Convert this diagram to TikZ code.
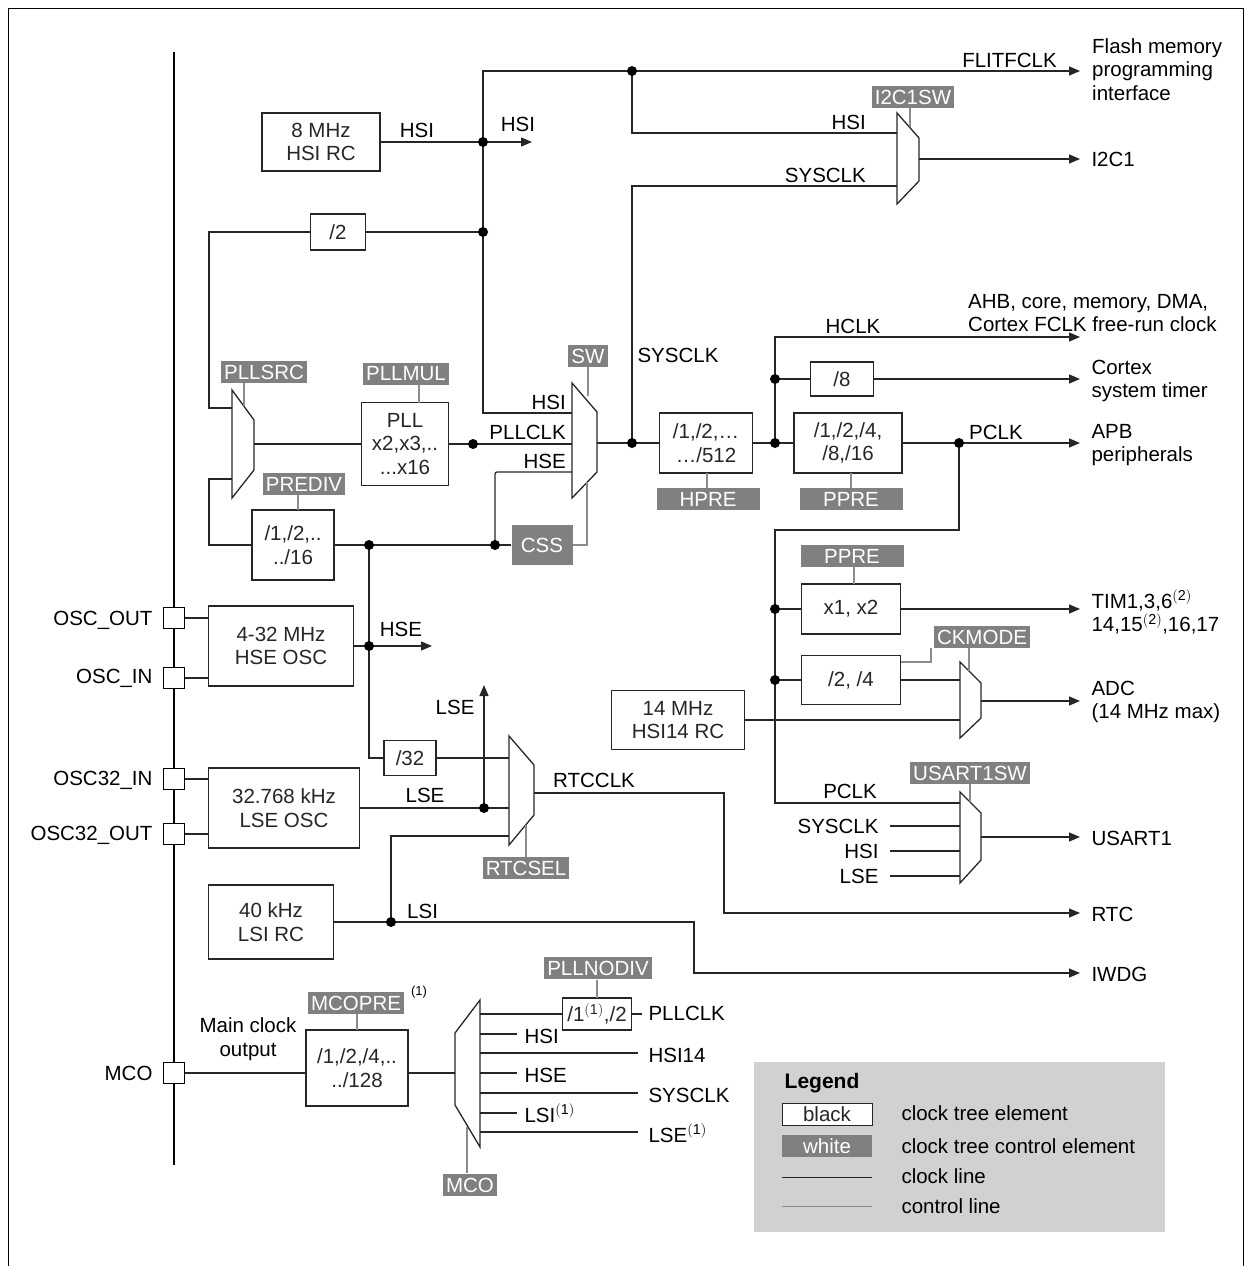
\documentclass[tikz,border=0pt]{standalone}
\usepackage{fontspec}
\setmainfont{Liberation Sans}
\usetikzlibrary{arrows.meta}
\begin{document}
\begin{tikzpicture}[x=1pt,y=-1pt,
  every node/.style={font=\fontsize{20.5}{23.5}\selectfont},
  ln/.style={line width=1.3pt,black!85},
  ctl/.style={line width=1.1pt,black!45},
  arr/.style={ln,-{Triangle[length=11pt,width=9pt]}},
  blk/.style={draw,line width=1.4pt,black!85,fill=white,align=center,inner sep=2pt},
  lbl/.style={fill=black!50,text=white,inner xsep=3pt,inner ysep=0pt,minimum height=22pt},
  dot/.style={circle,fill=black,inner sep=0pt,minimum size=10pt},
  pin/.style={draw,line width=1.4pt,fill=white,minimum size=21pt,inner sep=0pt},
  txt/.style={inner sep=1pt}]
\useasboundingbox (0,0) rectangle (1245,1266);
\draw[line width=1pt] (8,1266) -- (8,8) -- (1243,8) -- (1243,1266);
% bus
\draw[line width=2.6pt] (174,52) -- (174,1165);
% blocks
\node[blk,minimum width=118pt,minimum height=58pt] (hsirc) at (321,142) {8 MHz\\HSI RC};
\node[blk,minimum width=55pt,minimum height=36pt] (div2) at (338,232) {/2};
\node[blk,minimum width=87pt,minimum height=83pt] (pll) at (405,444) {PLL\\x2,x3,..\\...x16};
\node[blk,minimum width=82pt,minimum height=70pt] (prediv) at (293,545) {/1,/2,..\\../16};
\node[blk,minimum width=145pt,minimum height=80pt] (hse) at (281,646) {4-32 MHz\\HSE OSC};
\node[blk,minimum width=151pt,minimum height=80pt] (lse) at (284,808) {32.768 kHz\\LSE OSC};
\node[blk,minimum width=125pt,minimum height=74pt] (lsi) at (271,922) {40 kHz\\LSI RC};
\node[blk,minimum width=52pt,minimum height=35pt] (div32) at (410,758) {/32};
\node[blk,minimum width=93pt,minimum height=60pt] (hpre) at (706,443) {/1,/2,\dots\\\dots/512};
\node[blk,minimum width=108pt,minimum height=60pt] (ppre) at (848,443) {/1,/2,/4,\\/8,/16};
\node[blk,minimum width=63pt,minimum height=34pt] (div8) at (842,379) {/8};
\node[blk,minimum width=99pt,minimum height=50pt] (x12) at (851,609) {x1, x2};
\node[blk,minimum width=99pt,minimum height=49pt] (d24) at (851,680) {/2, /4};
\node[blk,minimum width=133pt,minimum height=59pt] (hsi14) at (678,720) {14 MHz\\HSI14 RC};
\node[blk,minimum width=102pt,minimum height=76pt] (mcopre) at (357,1068) {/1,/2,/4,..\\../128};
\node[blk,minimum width=69pt,minimum height=32pt,inner sep=0pt] (nodiv) at (597,1014) {/1$^{\mathrm{(1)}}$,/2};
% pins
\node[pin] (posco) at (174,618) {};
\node[pin] (posci) at (174,678) {};
\node[pin] (p32i) at (174,779) {};
\node[pin] (p32o) at (174,834) {};
\node[pin] (pmco) at (174,1073) {};
\node[anchor=east] at (156,620) {OSC\_OUT};
\node[anchor=east] at (156,678) {OSC\_IN};
\node[anchor=east] at (156,780) {OSC32\_IN};
\node[anchor=east] at (156,835) {OSC32\_OUT};
\node[anchor=east] at (156,1073) {MCO};
% muxes
\draw[ln] (232,390) -- (254,420) -- (254,470) -- (232,498) -- cycle;
\draw[ln] (572,383) -- (597,412) -- (597,472) -- (572,498) -- cycle;
\draw[ln] (897,113) -- (919,138) -- (919,181) -- (897,204) -- cycle;
\draw[ln] (960,662) -- (981,683) -- (981,718) -- (960,738) -- cycle;
\draw[ln] (960,792) -- (981,813) -- (981,860) -- (960,883) -- cycle;
\draw[ln] (509,736) -- (534,765) -- (534,815) -- (509,845) -- cycle;
\draw[ln] (480,1000) -- (455,1033) -- (455,1105) -- (480,1147) -- cycle;
% control labels
\node[lbl] (l1) at (264,372) {PLLSRC};
\node[lbl] (l2) at (406,374) {PLLMUL};
\node[lbl] (l3) at (588,356) {SW};
\node[lbl] (l4) at (304,484) {PREDIV};
\node[lbl,minimum height=40pt,minimum width=61pt] (css) at (542,545) {CSS};
\node[lbl,minimum width=103pt] (l5) at (708,499) {HPRE};
\node[lbl,minimum width=103pt] (l6) at (851,499) {PPRE};
\node[lbl,minimum width=103pt] (l7) at (852,556) {PPRE};
\node[lbl] (l8) at (982,637) {CKMODE};
\node[lbl] (l9) at (970,773) {USART1SW};
\node[lbl] (l10) at (526,868) {RTCSEL};
\node[lbl] (l11) at (913,97) {I2C1SW};
\node[lbl] (l12) at (356,1003) {MCOPRE};
\node[font=\fontsize{13}{14}\selectfont] at (419,992) {(1)};
\node[lbl] (l13) at (598,968) {PLLNODIV};
\node[lbl] (l14) at (470,1185) {MCO};
% control lines
\draw[ctl] (244,383) -- (244,406);
\draw[ctl] (419,385) -- (419,403);
\draw[ctl] (588,367) -- (588,396);
\draw[ctl] (298,495) -- (298,510);
\draw[ctl] (css.east) -- (587,545) -- (587,482);
\draw[ctl] (707,488) -- (707,473);
\draw[ctl] (851,488) -- (851,473);
\draw[ctl] (854,567) -- (854,584);
\draw[ctl] (931,648) -- (931,662) -- (901,662);
\draw[ctl] (969,648) -- (969,671);
\draw[ctl] (970,784) -- (970,802);
\draw[ctl] (526,857) -- (526,825);
\draw[ctl] (910,107) -- (910,127);
\draw[ctl] (357,1014) -- (357,1030);
\draw[ctl] (597,980) -- (597,998);
\draw[ctl] (467,1173) -- (467,1127);
% clock lines
\draw[arr] (572,413) -| (483,71) -- (1080,71);
\node[anchor=south east,txt] at (1058,69) {FLITFCLK};
\draw[ln] (632,71) |- (897,133);
\node[anchor=south east,txt] at (867,131) {HSI};
\draw[arr] (hsirc.east) -- (532,142);
\node[anchor=south,txt] at (417,139) {HSI};
\node[anchor=south,txt] at (518,133) {HSI};
\draw[ln] (232,408) -- (209,408) |- (div2.west);
\draw[ln] (div2.east) -- (483,232);
\draw[ln] (232,479) -- (209,479) |- (prediv.west);
\draw[ln] (254,444) -- (pll.west);
\draw[ln] (pll.east) -- (572,444);
\node[anchor=south east,txt] at (567,411) {HSI};
\node[anchor=south east,txt] at (567,441) {PLLCLK};
\node[anchor=south east,txt] at (567,470) {HSE};
\draw[ln] (prediv.east) -- (css.west);
\draw[ln,rounded corners=2pt] (495,545) |- (572,472);
\draw[ln] (597,443) -- (hpre.west);
\draw[ln] (632,443) |- (897,186);
\node[anchor=south east,txt] at (867,184) {SYSCLK};
\node[anchor=west] at (634,355) {SYSCLK};
\draw[arr] (919,159) -- (1080,159);
\draw[ln] (hpre.east) -- (ppre.west);
\draw[arr] (775,443) |- (1080,337);
\node[anchor=south,txt] at (853,335) {HCLK};
\draw[ln] (775,379) -- (div8.west);
\draw[arr] (div8.east) -- (1080,379);
\draw[arr] (ppre.east) -- (1080,443);
\node[anchor=south west,txt] at (968,441) {PCLK};
\draw[ln] (959,443) -- (959,530) -- (775,530) |- (960,803);
\node[anchor=south east,txt] at (878,800) {PCLK};
\draw[ln] (775,609) -- (x12.west);
\draw[arr] (x12.east) -- (1080,609);
\draw[ln] (775,680) -- (d24.west);
\draw[ln] (d24.east) -- (960,680);
\draw[ln] (hsi14.east) -- (960,720);
\draw[arr] (981,701) -- (1080,701);
\foreach \y/\t in {826/SYSCLK,851/HSI,876/LSE}{
  \draw[ln] (890,\y) -- (960,\y);
  \node[anchor=east] at (882,\y) {\t};}
\draw[arr] (981,837) -- (1080,837);
% HSE
\draw[ln] (posco) -- (posco -| hse.west);
\draw[ln] (posci) -- (posci -| hse.west);
\draw[arr] (hse.east) -- (432,646);
\node[anchor=south,txt] at (401,638) {HSE};
\draw[ln] (369,545) -- (369,758) -- (div32.west);
\draw[ln] (div32.east) -- (509,758);
% LSE
\draw[ln] (p32i) -- (p32i -| lse.west);
\draw[ln] (p32o) -- (p32o -| lse.west);
\draw[ln] (lse.east) -- (509,808);
\draw[arr] (484,808) -- (484,685);
\node[anchor=east] at (478,707) {LSE};
\node[anchor=south,txt] at (425,804) {LSE};
% LSI
\draw[ln] (391,922) |- (509,836);
\draw[arr] (lsi.east) -- (694,922) -- (694,973) -- (1080,973);
\node[anchor=south west,txt] at (406,920) {LSI};
\draw[arr] (534,793) -- (724,793) -- (724,913) -- (1080,913);
\node[anchor=south west,txt] at (552,789) {RTCCLK};
% MCO
\draw[ln] (pmco) -- (mcopre.west |- pmco);
\draw[ln] (mcopre.east |- pmco) -- (455,1073);
\node[align=center] at (248,1039) {Main clock\\output};
\draw[ln] (480,1014) -- (nodiv.west);
\draw[ln] (nodiv.east) -- (642,1014);
\node[anchor=west] at (645,1013) {PLLCLK};
\foreach \y/\e in {1034/517,1073/517,1113/517}{\draw[ln] (480,\y) -- (\e,\y);}
\foreach \y/\e in {1053/638,1093/638,1132/638}{\draw[ln] (480,\y) -- (\e,\y);}
\node[anchor=west] at (521,1036) {HSI};
\node[anchor=west] at (521,1075) {HSE};
\node[anchor=west] at (521,1113) {LSI$^{\mathrm{(1)}}$};
\node[anchor=west] at (645,1055) {HSI14};
\node[anchor=west] at (645,1095) {SYSCLK};
\node[anchor=west] at (645,1133) {LSE$^{\mathrm{(1)}}$};
% dots
\foreach \p in {(483,142),(483,232),(632,71),(473,444),(369,545),(495,545),(632,443),(775,443),(775,379),(959,443),(775,609),(775,680),(369,646),(484,808),(391,922)}
  \node[dot] at \p {};
% right texts
\node[anchor=north west,align=left,inner sep=0pt] at (1092,38) {Flash memory\\programming\\interface};
\node[anchor=west] at (1088,159) {I2C1};
\node[anchor=south west,align=left,inner sep=0pt] at (968,332) {AHB, core, memory, DMA,\\Cortex FCLK free-run clock};
\node[anchor=west,align=left] at (1088,381) {Cortex\\system timer};
\node[anchor=west,align=left] at (1088,445) {APB\\peripherals};
\node[anchor=west,align=left] at (1088,612) {TIM1,3,6$^{\mathrm{(2)}}$\\14,15$^{\mathrm{(2)}}$,16,17};
\node[anchor=west,align=left] at (1088,702) {ADC\\(14 MHz max)};
\node[anchor=west] at (1088,838) {USART1};
\node[anchor=west] at (1088,914) {RTC};
\node[anchor=west] at (1088,974) {IWDG};
% legend
\fill[black!18] (754,1062) rectangle (1165,1232);
\node[font=\fontsize{21}{23}\selectfont\bfseries] at (822,1083) {Legend};
\node[blk,line width=1pt,minimum width=90pt,minimum height=22pt,inner sep=0pt] at (827,1114) {black};
\node[lbl,minimum width=90pt] at (827,1146) {white};
\draw[ln,line width=1pt] (782,1177) -- (872,1177);
\draw[ctl,line width=1pt] (782,1206) -- (872,1206);
\node[anchor=west] at (898,1113) {clock tree element};
\node[anchor=west] at (898,1146) {clock tree control element};
\node[anchor=west] at (898,1176) {clock line};
\node[anchor=west] at (898,1206) {control line};
\end{tikzpicture}
\end{document}
